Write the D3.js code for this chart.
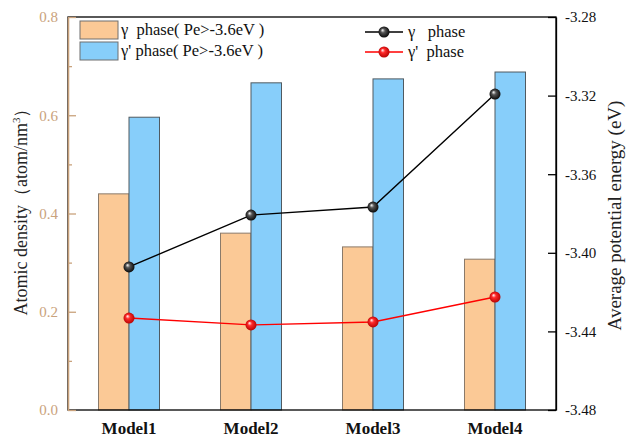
<!DOCTYPE html>
<html>
<head>
<meta charset="utf-8">
<script src="https://cdn.jsdelivr.net/npm/d3@7"></script>
<style>
  html, body { margin: 0; padding: 0; background: #fff; }
  svg text { font-family: 'Liberation Serif', 'Times New Roman', Times, 'DejaVu Serif', serif; }
</style>
</head>
<body>
<svg id="chart" width="627" height="440"></svg>
<script>
// Models on the category axis
const categories = ["Model1", "Model2", "Model3", "Model4"];

// Atomic density (atom/nm^3), left axis
const densityGamma = [0.44, 0.36, 0.332, 0.307];
const densityGammaPrime = [0.596, 0.666, 0.674, 0.688];

// Average potential energy (eV), right axis
const energyGamma = [-3.4072, -3.3808, -3.3767, -3.3192];
const energyGammaPrime = [-3.4332, -3.4367, -3.4352, -3.4225];

// Tick values
const leftTicks = [0.0, 0.2, 0.4, 0.6, 0.8];
const leftMinorTicks = [0.1, 0.3, 0.5, 0.7];
const rightTicks = [-3.48, -3.44, -3.40, -3.36, -3.32, -3.28];

const barLabels = ["γ  phase( Pe>-3.6eV )", "γ' phase( Pe>-3.6eV )"];
const lineLabels = ["γ   phase", "γ'  phase"];

const FONT = "'Liberation Serif', 'Times New Roman', Times, 'DejaVu Serif', serif";
const svg = d3.select("#chart");
const M = { left: 68, right: 556, top: 17, bottom: 410 };
const tan = "#c9a27c";
const barColors = ["#fbc996", "#87cefa"];
const fmtR = d => d.toFixed(2); // plain hyphen minus

const x = d3.scaleBand().domain(categories).range([M.left, M.right])
  .paddingInner(0.5).paddingOuter(0.25);
const xSub = d3.scaleBand().domain([0, 1]).range([0, x.bandwidth()]);
const yL = d3.scaleLinear().domain([0, 0.8]).range([M.bottom, M.top]);
const yR = d3.scaleLinear().domain([-3.48, -3.28]).range([M.bottom, M.top]);

// glossy sphere gradients for the markers
const defs = svg.append("defs");
function sphere(id, mid, dark) {
  const g = defs.append("radialGradient").attr("id", id)
    .attr("cx", "50%").attr("cy", "50%").attr("r", "55%")
    .attr("fx", "35%").attr("fy", "32%");
  g.append("stop").attr("offset", "0%").attr("stop-color", "#ffffff");
  g.append("stop").attr("offset", "35%").attr("stop-color", mid);
  g.append("stop").attr("offset", "100%").attr("stop-color", dark);
}
sphere("ballBlack", "#555", "#000");
sphere("ballRed", "#ff2a2a", "#b00000");

// bars
const barSeries = [densityGamma, densityGammaPrime];
const barStroke = ["#8a7a6a", "#505a60"];
barSeries.forEach((vals, si) => {
  svg.append("g").selectAll("rect").data(vals).join("rect")
    .attr("x", (d, i) => x(categories[i]) + xSub(si))
    .attr("y", d => yL(d))
    .attr("width", xSub.bandwidth())
    .attr("height", d => yL(0) - yL(d))
    .attr("fill", barColors[si])
    .attr("stroke", barStroke[si])
    .attr("stroke-width", 1);
});

// plot frame
svg.append("rect")
  .attr("x", M.left).attr("y", M.top)
  .attr("width", M.right - M.left).attr("height", M.bottom - M.top)
  .attr("fill", "none").attr("stroke", "#000").attr("stroke-width", 1.3);

// lines with sphere markers
const cx = i => x(categories[i]) + x.bandwidth() / 2;
const lineSeries = [
  { vals: energyGamma, color: "#000", ball: "ballBlack" },
  { vals: energyGammaPrime, color: "#ff0000", ball: "ballRed" }
];
lineSeries.forEach(s => {
  const line = d3.line().x((d, i) => cx(i)).y(d => yR(d));
  svg.append("path").datum(s.vals).attr("d", line)
    .attr("fill", "none").attr("stroke", s.color).attr("stroke-width", 1.4);
  svg.append("g").selectAll("circle").data(s.vals).join("circle")
    .attr("cx", (d, i) => cx(i)).attr("cy", d => yR(d))
    .attr("r", 5.5).attr("fill", `url(#${s.ball})`);
});

// left axis (tan)
const gL = svg.append("g").attr("transform", `translate(${M.left},0)`)
  .call(d3.axisLeft(yL).tickValues(leftTicks).tickFormat(d => d.toFixed(1))
    .tickSizeInner(-8).tickSizeOuter(0).tickPadding(10));
gL.append("g").call(d3.axisLeft(yL).tickValues(leftMinorTicks).tickFormat("")
  .tickSizeInner(-4).tickSizeOuter(0));
gL.selectAll("path, line").attr("stroke", tan).attr("stroke-width", 1.3);
gL.attr("font-family", FONT);
gL.selectAll("text").attr("fill", tan).attr("font-size", 15);

// right axis
const gR = svg.append("g").attr("transform", `translate(${M.right},0)`)
  .call(d3.axisRight(yR).tickValues(rightTicks).tickFormat(fmtR)
    .tickSizeInner(-8).tickSizeOuter(0).tickPadding(9));
gR.attr("font-family", FONT);
gR.selectAll("path, line").attr("stroke", "#000").attr("stroke-width", 1.3);
gR.selectAll("text").attr("fill", "#111").attr("font-size", 15);

// bottom axis labels
const gB = svg.append("g").attr("transform", `translate(0,${M.bottom})`)
  .call(d3.axisBottom(x).tickSize(0).tickPadding(12));
gB.attr("font-family", FONT);
gB.select(".domain").remove();
gB.selectAll("text").attr("fill", "#111").attr("font-size", 17)
  .attr("font-weight", "bold");

// axis titles
const tl = svg.append("text")
  .attr("transform", `translate(27,${(M.top + M.bottom) / 2 - 6}) rotate(-90)`)
  .attr("text-anchor", "middle").attr("fill", "#222")
  .attr("font-family", FONT).attr("font-size", 18);
tl.append("tspan").text("Atomic density（atom/nm");
tl.append("tspan").attr("dy", -7).attr("font-size", 11).text("3");
tl.append("tspan").attr("dy", 7).text("）");

svg.append("text")
  .attr("transform", `translate(621,${(M.top + M.bottom) / 2 + 2}) rotate(-90)`)
  .attr("text-anchor", "middle").attr("fill", "#222")
  .attr("font-family", FONT).attr("font-size", 19)
  .text("Average potential energy (eV)");

// bar legend
const legB = svg.append("g").attr("font-family", FONT);
barLabels.forEach((t, i) => {
  const yy = 21 + i * 21;
  legB.append("rect").attr("x", 80).attr("y", yy).attr("width", 38).attr("height", 18)
    .attr("fill", barColors[i]).attr("stroke", "#6e6e6e").attr("stroke-width", 1);
  legB.append("text").attr("x", 121).attr("y", yy + 14).attr("fill", "#111")
    .attr("font-size", 16.5).attr("xml:space", "preserve").text(t);
});

// line legend
const legL = svg.append("g").attr("font-family", FONT);
lineLabels.forEach((t, i) => {
  const yy = 32 + i * 20;
  legL.append("line").attr("x1", 365).attr("x2", 403).attr("y1", yy).attr("y2", yy)
    .attr("stroke", lineSeries[i].color).attr("stroke-width", 1.5);
  legL.append("circle").attr("cx", 384).attr("cy", yy).attr("r", 5.5)
    .attr("fill", `url(#${lineSeries[i].ball})`);
  legL.append("text").attr("x", 408).attr("y", yy + 5).attr("fill", "#111")
    .attr("font-size", 16.5).attr("xml:space", "preserve").text(t);
});
</script>
</body>
</html>
